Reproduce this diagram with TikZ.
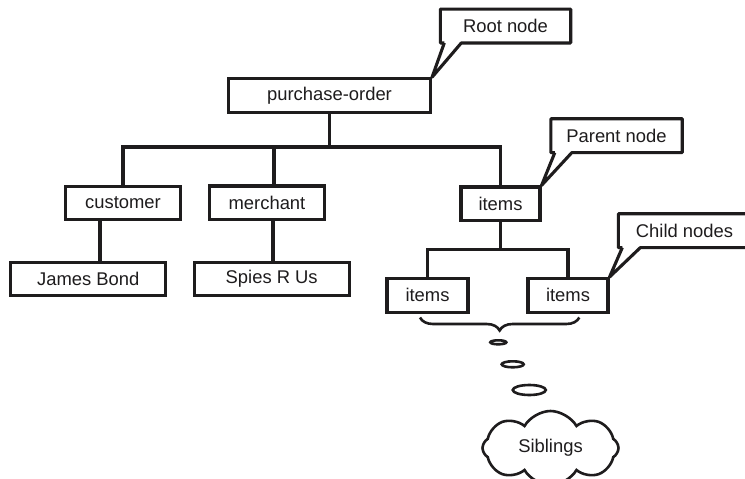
\documentclass[tikz,border=0pt]{standalone}
\usepackage{fontspec}
\setmainfont{Liberation Sans}
\usetikzlibrary{calc,shapes.geometric,shapes.symbols,decorations.pathreplacing,backgrounds}

\definecolor{ink}{HTML}{1E1C1D}

\tikzset{
  box/.style={draw=ink, line width=3.1pt, fill=white, inner sep=0pt,
    minimum height=33.5pt, text=ink, font=\fontsize{18.4}{22}\selectfont},
  wire/.style={draw=ink, line width=3.1pt},
  calloutline/.style={draw=ink, line width=3.1pt, line join=round},
  note/.style={inner sep=0pt, minimum height=33.5pt, text=ink,
    font=\fontsize{18.4}{22}\selectfont},
  bubble/.style={ellipse, draw=ink, line width=2.6pt, inner sep=0pt},
}

\begin{document}
\begin{tikzpicture}[x=1pt, y=-1pt]
  \useasboundingbox (0,0) rectangle (745,479);
  \clip (0,0) rectangle (745,479);

  % tree nodes
  \node[box, minimum width=202pt] (po) at (329.5,95.5) {purchase-order};
  \node[box, minimum width=115pt] (customer) at (123,203) {customer};
  \node[box, minimum width=115pt] (merchant) at (267,202.7) {merchant};
  \node[box, minimum width=79pt] (items) at (500.5,203.7) {items};
  \node[box, minimum width=155pt] (jb) at (88.3,279) {James Bond};
  \node[box, minimum width=155pt] (spies) at (271.7,279) {Spies R Us};
  \node[box, minimum width=81pt] (i1) at (427.5,295.3) {items};
  \node[box, minimum width=80pt] (i2) at (568,295.3) {items};

  % connectors, kept behind the boxes
  \begin{scope}[on background layer]
    \fill[white] (0,0) rectangle (745,479);
    \coordinate (j1) at (329.5,147);
    \coordinate (j2) at (500.5,249.3);
    \draw[wire] (po.center) -- (j1);
    \draw[wire] (customer.center) |- (j1) -| (items.center);
    \draw[wire] ([xshift=7pt]merchant.center) -- ([xshift=7pt]merchant.center |- j1);
    \draw[wire] ([xshift=-23pt]customer.center) -- ([xshift=-23pt]customer.center |- jb.center);
    \draw[wire] ([xshift=6pt]merchant.center) -- ([xshift=6pt]merchant.center |- spies.center);
    \draw[wire] (items.center) -- (j2);
    \draw[wire] (i1.center) |- (j2) -| (i2.center);
  \end{scope}

  % callouts
  \node[note, minimum width=130pt] (rootlbl) at (505.5,26) {Root node};
  \draw[calloutline] ($(rootlbl.south west)+(4,0)$) -- (po.north east)
    -- ($(rootlbl.south west)+(21,0)$) -- (rootlbl.south east)
    -- (rootlbl.north east) -- (rootlbl.north west) -- (rootlbl.south west)
    -- ($(rootlbl.south west)+(4,0)$);

  \node[note, minimum width=131pt] (parentlbl) at (616.5,135.7) {Parent node};
  \draw[calloutline] ($(parentlbl.south west)+(4,0)$) -- (items.north east)
    -- ($(parentlbl.south west)+(21,0)$) -- (parentlbl.south east)
    -- (parentlbl.north east) -- (parentlbl.north west) -- (parentlbl.south west)
    -- ($(parentlbl.south west)+(4,0)$);

  \node[note, minimum width=132pt] (childlbl) at (684.5,230.7) {Child nodes};
  \draw[calloutline] ($(childlbl.south west)+(4,0)$) -- (i2.north east)
    -- ($(childlbl.south west)+(22,0)$) -- (childlbl.south east)
    -- (childlbl.north east) -- (childlbl.north west) -- (childlbl.south west)
    -- ($(childlbl.south west)+(4,0)$);

  % sibling brace and thought bubble
  \coordinate (bl) at (420,317.5);
  \coordinate (br) at (579.3,317.5);
  \draw[draw=ink, line width=2.6pt, decorate,
    decoration={brace, mirror, amplitude=13pt}] (bl) -- (br);

  \node[bubble, minimum width=16pt, minimum height=4pt] (b1) at (498.3,342.3) {};
  \node[bubble, minimum width=22pt, minimum height=6pt] (b2) at (512.7,364.3) {};
  \node[bubble, minimum width=33pt, minimum height=10pt] (b3) at (529.3,390) {};

  \node[cloud, cloud puffs=8, cloud puff arc=120, aspect=2, draw=ink,
    line width=2.6pt, fill=white, minimum width=136pt, minimum height=74pt,
    inner sep=0pt, text=ink, font=\fontsize{18.4}{22}\selectfont]
    (sib) at (550.5,448) {Siblings};
\end{tikzpicture}
\end{document}
